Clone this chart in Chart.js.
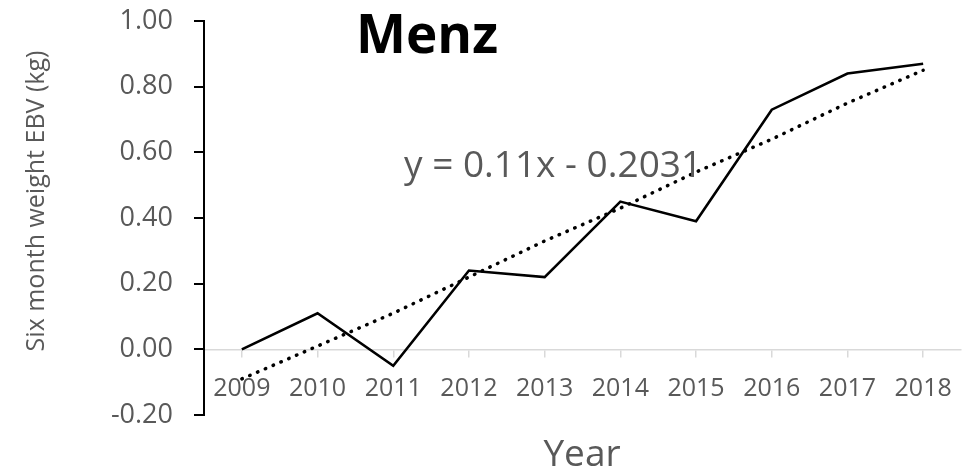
<!DOCTYPE html>
<html>
<head>
<meta charset="utf-8">
<script src="https://cdn.jsdelivr.net/npm/chart.js@4"></script>
<style>
  html, body { margin: 0; padding: 0; background: #fff; }
</style>
</head>
<body>
<canvas id="menzChart" width="973" height="469"></canvas>
<script>
const years = ['2009', '2010', '2011', '2012', '2013', '2014', '2015', '2016', '2017', '2018'];
const ebvValues = [0.00, 0.11, -0.05, 0.24, 0.22, 0.45, 0.39, 0.73, 0.84, 0.87];
// linear trend
const trendValues = [-0.09, 0.01, 0.11, 0.22, 0.33, 0.43, 0.54, 0.64, 0.75, 0.85];
const yTicks = [-0.2, 0, 0.2, 0.4, 0.6, 0.8, 1.0];

const grey = '#595959';
const fontName = '"Open Sans", sans-serif';

// title, trend equation and axis titles sit where Excel put them
const chartText = {
    id: 'chartText',
    afterDraw(chart) {
        const c = chart.ctx;
        c.save();
        c.fillStyle = '#000';
        c.font = 'bold 53px ' + fontName;
        c.textAlign = 'center';
        c.textBaseline = 'alphabetic';
        c.fillText('Menz', 427, 53);

        c.fillStyle = grey;
        c.font = '37px ' + fontName;
        c.textAlign = 'left';
        c.fillText('y = 0.11x - 0.2031', 404, 177);

        c.textAlign = 'center';
        c.font = '37px ' + fontName;
        c.fillText('Year', 582, 466);

        c.translate(37, 201);
        c.rotate(-Math.PI / 2);
        c.font = '25px ' + fontName;
        c.textBaseline = 'middle';
        c.fillText('Six month weight EBV (kg)', 0, 0);
        c.restore();
    }
};

const ctx = document.getElementById('menzChart').getContext('2d');

new Chart(ctx, {
    type: 'line',
    data: {
        labels: years,
        datasets: [{
            data: ebvValues,
            borderColor: '#000',
            borderWidth: 2.6,
            pointRadius: 0,
            tension: 0
        }, {
            data: trendValues,
            borderColor: '#000',
            borderWidth: 3.5,
            borderDash: [0.5, 8],
            borderCapStyle: 'round',
            pointRadius: 0,
            tension: 0
        }]
    },
    options: {
        responsive: false,
        animation: false,
        devicePixelRatio: 1,
        layout: { padding: { top: 21, right: 12, bottom: 54, left: 0 } },
        plugins: {
            legend: { display: false },
            tooltip: { enabled: false }
        },
        scales: {
            x: {
                type: 'category',
                offset: true,
                position: { y: 0 },
                afterFit: (scale) => {
                    scale.height = 0;
                    scale.paddingLeft = 0;
                    scale.paddingRight = 0;
                },
                border: { color: '#d9d9d9', width: 1.5 },
                grid: { drawOnChartArea: false, color: '#d9d9d9', lineWidth: 1.5, tickLength: 7 },
                ticks: {
                    autoSkip: false,
                    maxRotation: 0,
                    padding: 18,
                    color: grey,
                    font: { family: fontName, size: 25 }
                }
            },
            y: {
                min: -0.2,
                max: 1.0,
                afterBuildTicks: (scale) => { scale.ticks = yTicks.map(v => ({ value: v })); },
                afterFit: (scale) => {
                    scale.width = 204;
                    scale.paddingTop = 0;
                    scale.paddingBottom = 0;
                },
                border: { color: '#000', width: 2 },
                grid: { drawOnChartArea: false, color: '#000', lineWidth: 2, tickLength: 10 },
                ticks: {
                    padding: 21,
                    color: grey,
                    font: { family: fontName, size: 27 },
                    callback: (v) => Number(v).toFixed(2)
                }
            }
        }
    },
    plugins: [chartText]
});
</script>
</body>
</html>
